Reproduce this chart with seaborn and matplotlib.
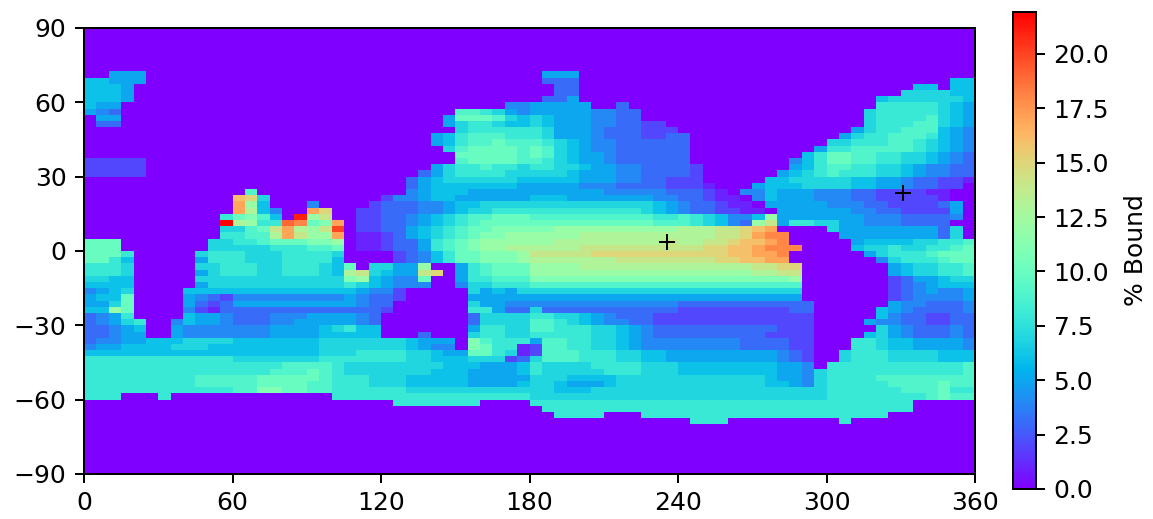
import matplotlib
matplotlib.use("Agg")
import matplotlib.pyplot as plt
import pandas as pd
import seaborn as sns

# values per cell (5 deg lon x 2.5 deg lat). '.' = 0, digits 1-9, a=10 ... m=22
# six groups of 12 cells: 0-60, 60-120, 120-180, 180-240, 240-300, 300-360
E = "............"
north_rows = [
 "..555....... " + E + " " + E + " .555........ " + E + " " + E,
 "66555....... " + E + " " + E + " .333........ " + E + " ..........66",
 "6665........ " + E + " " + E + " ..33........ " + E + " .......66.66",
 "6665........ " + E + " " + E + " ..33........ " + E + " ......777766",
 "6665........ " + E + " " + E + " .335........ " + E + " ....67777776",
 "655......... " + E + " ..........44 55555..3.... " + E + " ....88888765",
 "543......... " + E + " ......998754 555554433... " + E + " ...788888765",
 ".55......... " + E + " .....5aaa976 765554433... " + E + " ...788889765",
 ".33......... " + E + " .....5788766 76555443322. " + E + " ...788899765",
 E + " " + E + " ......788888 875554333222 " + E + " ..5788999654",
 E + " " + E + " ....56899988 875554333223 3........... .57889998654",
 E + " " + E + " ....56899a99 987654433333 3........... 778889987654",
 E + " " + E + " .....79aaaa9 a97654433333 3..........5 889999987654",
 E + " " + E + " ......aaaaa9 a97655433333 3.........68 aa9988776543",
 "22222....... " + E + " ......9aaaa9 987655433333 3........468 aa9988776543",
 "22222....... " + E + " ....57889887 887765544333 32.......568 998877654433",
 "22222....... " + E + " ...357888877 777655544333 32......5678 988877654433",
 E + " " + E + " ..3567777776 666655544332 22.....66777 776655433221",
 E + " " + E + " ..3566666665 555544433332 221...566677 77665543322.",
 E + " .9.......... ..4566655555 555555444443 3321.4465554 4433222211..",
 E + " gf7......... 244566555555 666555555544 33211.465554 4433222221..",
 E + " hc6...4....2 333445667777 777777777765 433211.55555 44433222235.",
 E + " hd64..hf..22 333445677888 888888888765 4332211.5555 55443322225.",
 "...........8 ab96.lce..22 334567899aaa 999999999988 9876446c5555 55544433334.",
 "...........m dc88jiabh.22 33456789aaaa aaaaaaaaaa99 987643ce5887 7554443333..",
 "...........7 79aehdcek.22 3356789aabbb bbcccccccccc dddeefgh.... 75555555537.",
 "...........8 899dhecch.11 2356789abbcc ccccdddddddd dddeefhii... .5555555537.",
 "aaa.......77 889aaabbc.11 233589abcccc ccddddddddde ddeefgghi... ..5666677889",
 "aaa.......77 77788899a.11 233589abccdd ddddeeeeeeee eeffgghiii.. ..677877889a",
]
south_rows = [
 "aaa8.....788 877788887... .23468aabbbc eeeeefffffff ffffgghhi... ...578889aaa",
 "aa86.....588 877788886... .23468aabbbc dddddddeeeee eeeffgghh... ....478889aa",
 "8887.....778 887788876a.7 755c..589aaa ccccdddddddd ddddddeeff.. .....5677889",
 "8887.....578 887788876de7 655ef.589aaa cccccccccccc ccccccddee.. .....5677889",
 "7766.....777 777777777bc6 544a..588999 bbbbbbbbbbbb bbbbbbbbbc.. .....2355677",
 "6666.....577 777777777876 5444..477888 999999999999 9999999999.. .....2345666",
 "4567....6666 666666666654 42.....75657 777777777777 7777777777.. .....2345445",
 "566a....5432 444444444543 32.....55555 555555555555 5555555555.. .....2344445",
 "557a....5323 555555555543 3......75544 444444444444 33333333333. .....5443334",
 "66ca....4213 333333333333 2......88533 733333333333 22222222233. ....65433334",
 "3458....6554 333444555543 .......37777 887765433322 22222222222. ....64332233",
 "34578..46554 333445555543 .......37777 998765443322 22222222222. ...544332233",
 "33456..54444 444555567866 .......58877 998887765433 33333333222. ....75433343",
 "33455..54444 444555566666 ...3...78877 888887765433 33333332222. ...675433343",
 "344556667777 666666677777 776555.b9888 599887765444 44444333322. ..8876655554",
 "455666677766 666666677777 776544.ba881 299887765444 44444333322. ..8876655554",
 "666666666666 666666677788 8877655aa871 299988877665 55555555432. .78887777666",
 "888888888888 777777788888 887766677723 799988877665 55555555432. .78887777666",
 "888888888888 888899998777 777776665556 877778888777 66666666554. 888888888889",
 "888888888888 888999a98777 777766655556 877777888777 666666665547 888888888889",
 "888888888999 99aaaaa98887 776666655555 777666677777 777777765547 888899999999",
 "888888888999 99aaaa998887 776666655556 776555677777 777777766547 888889999a99",
 "888888888888 99bbaa998888 887777777777 776667777777 777777777777 888888999a88",
 "888...8..... ........8888 888888888888 777777777777 777777777777 888888889a99",
 E + " " + E + " .8888888.... 888888888888 888888888888 8888888.....",
 E + " " + E + " " + E + " .88888888888 888888888888 8888888.....",
 E + " " + E + " " + E + " ..8888...888 888888888888 88888.......",
 E + " " + E + " " + E + " " + E + " .888........ .8..........",
]
polar_north_count = 7
polar_south_count = 8

lon_ticks = [0, 60, 120, 180, 240, 300, 360]
lat_ticks = [-90, -60, -30, 0, 30, 60, 90]
colorbar_ticks = [0, 2.5, 5, 7.5, 10, 12.5, 15, 17.5, 20]
marker_lons = [235.5, 331]
marker_lats = [3.5, 23.5]
value_max = 21.93


def decode(row):
    cells = []
    for group in row.split():
        cells.extend(group[:12].ljust(12, "."))
    return [0 if c == "." else int(c, 36) for c in cells]


empty = " ".join([E] * 6)
rows = [empty] * polar_north_count + north_rows + south_rows + [empty] * polar_south_count
frame = pd.DataFrame([decode(r) for r in rows],
                     index=[90 - 2.5 * i for i in range(len(rows))],
                     columns=[5 * j for j in range(72)], dtype=float)

W, H = 1153, 519
fig = plt.figure(figsize=(W / 180, H / 180), dpi=180)
ax = fig.add_axes([84 / W, 1 - 474 / H, (975 - 84) / W, (474 - 28) / H])
cax = fig.add_axes([1013 / W, 1 - 489 / H, (1036 - 1013) / W, (489 - 12) / H])

sns.heatmap(frame, ax=ax, cbar_ax=cax, cmap="rainbow", vmin=0, vmax=value_max,
            xticklabels=False, yticklabels=False)

for s in ax.spines.values():
    s.set_visible(True)
    s.set_linewidth(0.8)
ax.set_xticks([v / 5 for v in lon_ticks])
ax.set_xticklabels([str(v) for v in lon_ticks], rotation=0, fontsize=10)
ax.set_yticks([(90 - v) / 2.5 for v in lat_ticks])
ax.set_yticklabels([str(v).replace("-", "\u2212") for v in lat_ticks], rotation=0, fontsize=10)
ax.tick_params(length=3.5, width=0.8)
ax.set_xlabel("")
ax.set_ylabel("")

ax.plot([v / 5 for v in marker_lons], [(90 - v) / 2.5 for v in marker_lats],
        linestyle="none", marker="+", color="black", markersize=6.5, markeredgewidth=0.8)

cax.set_yticks(colorbar_ticks)
cax.set_yticklabels([f"{v:.1f}" for v in colorbar_ticks], fontsize=10)
cax.tick_params(length=3.5, width=0.8)
cax.set_ylabel("% Bound", fontsize=10, labelpad=6)
for s in cax.spines.values():
    s.set_visible(True)
    s.set_linewidth(0.8)

fig.savefig("out.png", dpi=180)
